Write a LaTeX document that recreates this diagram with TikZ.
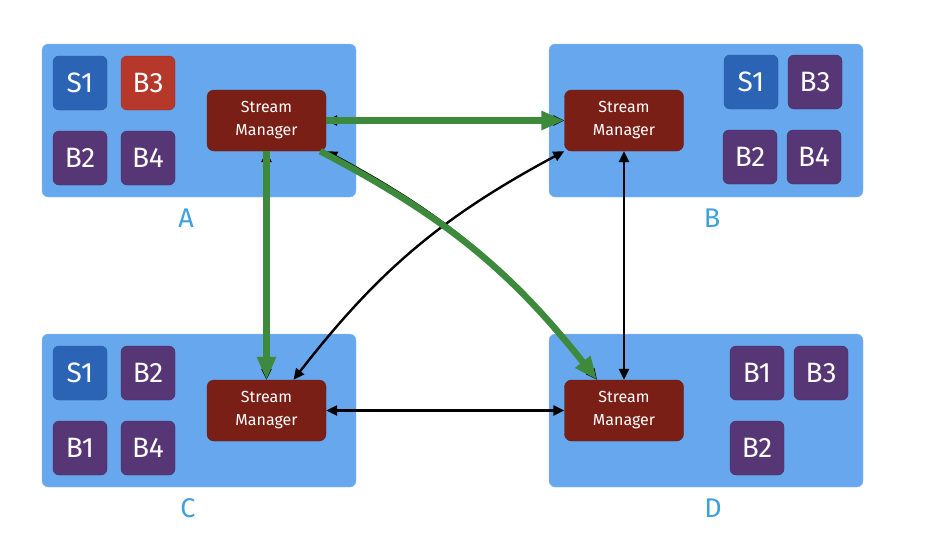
\documentclass[tikz,border=0pt]{standalone}
\usepackage{fontspec}
\setmainfont{Fira Sans}
\usetikzlibrary{positioning, arrows.meta}

\definecolor{hostblue}{HTML}{67A7EE}
\definecolor{smred}{HTML}{7A1F16}
\definecolor{spoutblue}{HTML}{2C64B5}
\definecolor{boltred}{HTML}{B5382A}
\definecolor{boltpurple}{HTML}{573675}
\definecolor{flowgreen}{HTML}{3D8A3D}
\definecolor{labelblue}{HTML}{3FA0DB}

\tikzset{
    host/.style={draw=hostblue!70!white, fill=hostblue, rounded corners=6pt,
        minimum width=314pt, minimum height=153pt, inner sep=0pt},
    manager/.style={draw=smred!85!black, fill=smred, rounded corners=7pt,
        minimum width=119pt, minimum height=61pt, text=white, align=center,
        font=\fontsize{16}{23}\selectfont},
    task/.style={draw=#1!85!black, fill=#1, rounded corners=6pt,
        minimum width=54pt, minimum height=54pt, text=white,
        font=\fontsize{28}{30}\selectfont},
    hostname/.style={text=labelblue, font=\fontsize{27}{29}\selectfont},
    link/.style={line width=2.4pt, {Triangle[length=11pt,width=10pt]}-{Triangle[length=11pt,width=10pt]}},
    flow/.style={line width=6.5pt, draw=flowgreen, -{Triangle[length=23pt,width=18pt]}}
}

\begin{document}
\begin{tikzpicture}[x=1pt, y=-1pt]
    \useasboundingbox (0,0) rectangle (934,546);

    % hosts
    \node[host] (host A) at (199,120.5) {};
    \node[host] (host B) at (706,120.5) {};
    \node[host] (host C) at (199,410.5) {};
    \node[host] (host D) at (706,410.5) {};
    \node[hostname] (name A) at (186,218) {A};
    \node[hostname] (name B) at (712,218) {B};
    \node[hostname] (name C) at (188,508) {C};
    \node[hostname] (name D) at (713,508) {D};

    % stream managers
    \node[manager] (sm A) at (266.5,120.5) {Stream\\Manager};
    \node[manager] (sm B) at (624,120.5)   {Stream\\Manager};
    \node[manager] (sm C) at (266.5,410.5) {Stream\\Manager};
    \node[manager] (sm D) at (624,410.5)   {Stream\\Manager};

    % tasks on A
    \node[task=spoutblue]  (A s1) at (80,83)   {S1};
    \node[task=boltred]    (A b3) at (148,83)  {B3};
    \node[task=boltpurple] (A b2) at (80,158)  {B2};
    \node[task=boltpurple] (A b4) at (148,158) {B4};
    % tasks on B
    \node[task=spoutblue]  (B s1) at (751,82)  {S1};
    \node[task=boltpurple] (B b3) at (815,82)  {B3};
    \node[task=boltpurple] (B b2) at (750,157) {B2};
    \node[task=boltpurple] (B b4) at (814,157) {B4};
    % tasks on C
    \node[task=spoutblue]  (C s1) at (80,373)  {S1};
    \node[task=boltpurple] (C b2) at (148,373) {B2};
    \node[task=boltpurple] (C b1) at (80,448)  {B1};
    \node[task=boltpurple] (C b4) at (148,448) {B4};
    % tasks on D
    \node[task=boltpurple] (D b1) at (757,373) {B1};
    \node[task=boltpurple] (D b3) at (821,373) {B3};
    \node[task=boltpurple] (D b2) at (757,448) {B2};

    % links between stream managers
    \draw[link] (sm A.east) -- (sm B.west);
    \draw[link] (sm A.south) -- (sm C.north);
    \draw[link] (sm A.south east) to[bend left=12] ([xshift=-27pt]sm D.north);
    \draw[link] ([xshift=27pt]sm C.north) to[bend left=12] (sm B.south west);
    \draw[link] (sm B.south) -- (sm D.north);
    \draw[link] (sm C.east) -- (sm D.west);

    % data flow from A
    \draw[flow] (sm A.east) -- (sm B.west);
    \draw[flow] (sm A.south) -- (sm C.north);
    \draw[flow] ([xshift=-6pt]sm A.south east) to[bend left=12] ([xshift=-27pt]sm D.north);
\end{tikzpicture}
\end{document}
